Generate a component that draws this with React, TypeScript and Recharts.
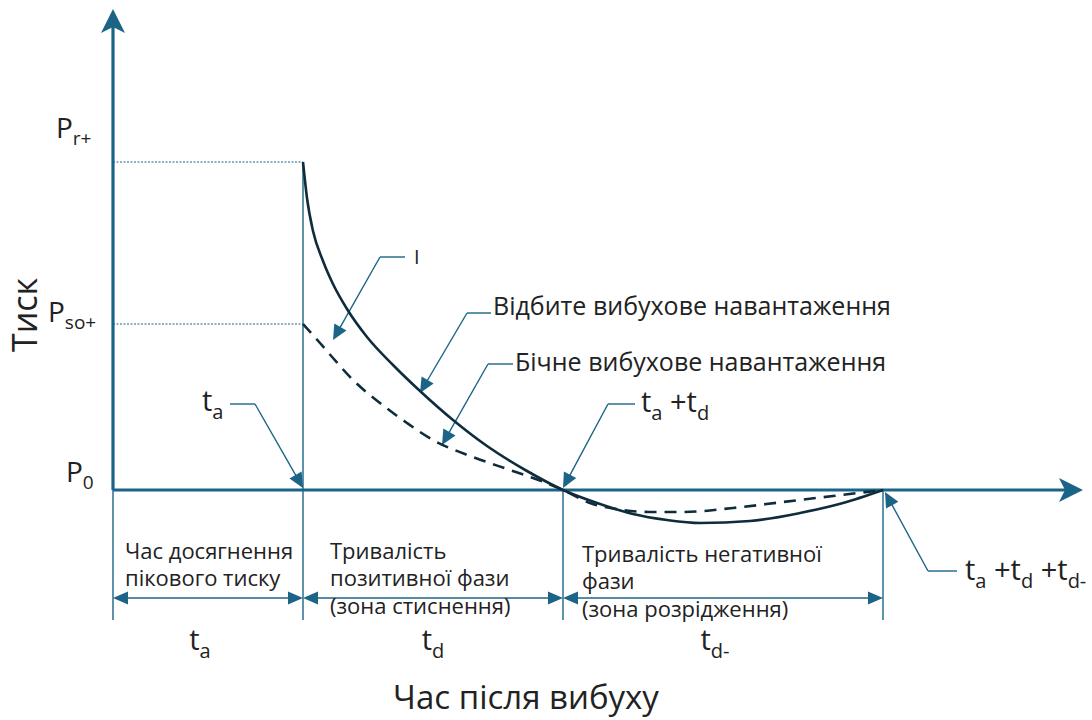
import type { ReactNode } from "react"
import { ComposedChart, Line, ReferenceDot, ReferenceLine, XAxis, YAxis } from "recharts"

// Blast-wave pressure history: reflected load vs side-on (incident) load

const T_A = 19 // arrival time t_a
const T_POS = 45 // end of positive phase, t_a + t_d
const T_END = 77 // end of negative phase, t_a + t_d + t_d-
const P_R = 32.8 // peak reflected overpressure P_r+
const P_SO = 16.6 // peak side-on overpressure P_so+

const reflectedTime = [19, 19.4, 20.0, 21.0, 22.0, 23.4, 25.4, 28.0, 30.7, 34.0, 37.4, 41.4, 45, 48.7, 52, 55.4, 58.7, 63.7, 68.7, 73, 77]
const reflectedPressure = [P_R, 29.2, 25.9, 22.9, 20.6, 18.1, 15.3, 12.5, 9.9, 7.0, 4.4, 1.9, 0, -1.4, -2.4, -3.0, -3.3, -3.1, -2.3, -1.3, 0]

const sideTime = [19, 20.7, 22.0, 24.0, 26.7, 29.4, 32.0, 36.0, 39.4, 42.0, 45, 47.7, 51, 53.7, 57, 62, 67, 72, 77]
const sidePressure = [P_SO, 14.7, 13.2, 11.0, 8.7, 6.7, 5.0, 3.3, 2.1, 1.2, 0, -1.3, -2.0, -2.2, -2.2, -1.8, -1.2, -0.6, 0]

const reflectedData = reflectedTime.map((t, i) => ({ t, p: reflectedPressure[i] }))
const sideData = sideTime.map((t, i) => ({ t, p: sidePressure[i] }))

const AXIS = "#1b6488"
const CURVE = "#0f2c3d"
const INK = "#222"
const FONT = "'Open Sans', 'Noto Sans', sans-serif"

type Pt = [number, number]
type SegProps = { x1?: number; y1?: number; x2?: number; y2?: number }
type ArrowOpts = { width: number; start?: boolean; end?: boolean; len?: number; half?: number; notch?: number; dash?: string }

// polygon for an arrowhead whose tip sits at (x, y), pointing along (ux, uy)
function headPoints(x: number, y: number, ux: number, uy: number, len: number, half: number, notch: number) {
  const bx = x - ux * len
  const by = y - uy * len
  const nx = -uy
  const ny = ux
  const pts: Pt[] = [
    [x, y],
    [bx + nx * half, by + ny * half],
    [x - ux * (len - notch), y - uy * (len - notch)],
    [bx - nx * half, by - ny * half],
  ]
  return pts.map((p) => p.join(",")).join(" ")
}

function arrowShape(o: ArrowOpts) {
  return (props: SegProps) => {
    const { x1 = 0, y1 = 0, x2 = 0, y2 = 0 } = props
    const d = Math.hypot(x2 - x1, y2 - y1) || 1
    const ux = (x2 - x1) / d
    const uy = (y2 - y1) / d
    const len = o.len ?? 13
    const half = o.half ?? 6
    const notch = o.notch ?? 0
    const inset = len * 0.6
    const sx = o.start ? x1 + ux * inset : x1
    const sy = o.start ? y1 + uy * inset : y1
    const ex = o.end ? x2 - ux * inset : x2
    const ey = o.end ? y2 - uy * inset : y2
    return (
      <g>
        <line x1={sx} y1={sy} x2={ex} y2={ey} stroke={AXIS} strokeWidth={o.width} strokeDasharray={o.dash} />
        {o.end && <polygon points={headPoints(x2, y2, ux, uy, len, half, notch)} fill={AXIS} />}
        {o.start && <polygon points={headPoints(x1, y1, -ux, -uy, len, half, notch)} fill={AXIS} />}
      </g>
    )
  }
}

const plain = arrowShape({ width: 1.4 })
const pointer = arrowShape({ width: 1.4, end: true, len: 15, half: 7 })
const span = arrowShape({ width: 1.6, start: true, end: true, len: 15, half: 6.5 })
const axisArrow = arrowShape({ width: 3.2, end: true, len: 24, half: 12, notch: 6 })
const dotted = arrowShape({ width: 1.2, dash: "2 1.5" })

function seg(key: string, a: Pt, b: Pt, shape: (p: SegProps) => ReactNode) {
  return (
    <ReferenceLine
      key={key}
      segment={[{ x: a[0], y: a[1] }, { x: b[0], y: b[1] }]}
      ifOverflow="visible"
      shape={shape as any}
    />
  )
}

function note(key: string, x: number, y: number, draw: (cx: number, cy: number) => ReactNode) {
  return (
    <ReferenceDot
      key={key}
      x={x}
      y={y}
      r={1}
      ifOverflow="visible"
      shape={((p: { cx: number; cy: number }) => draw(p.cx, p.cy)) as any}
    />
  )
}

// plain text line, anchored at the given point
function words(key: string, x: number, y: number, s: string, size = 20, anchor: "start" | "middle" = "start") {
  return note(key, x, y, (cx, cy) => (
    <text x={cx} y={cy} fontFamily={FONT} fontSize={size} fill={INK} textAnchor={anchor}>
      {s}
    </text>
  ))
}

// symbol with subscripts: parts alternate main / subscript
function symbol(key: string, x: number, y: number, parts: string[], size = 29, anchor: "start" | "middle" = "start") {
  const sub = Math.round(size * 0.68)
  const drop = Math.round(size * 0.26)
  return note(key, x, y, (cx, cy) => (
    <text x={cx} y={cy} fontFamily={FONT} fontSize={size} fill={INK} textAnchor={anchor}>
      {parts.map((s, i) =>
        i % 2 === 0 ? (
          <tspan key={i} dy={i === 0 ? 0 : -drop} fontSize={size}>
            {s}
          </tspan>
        ) : (
          <tspan key={i} dy={drop} fontSize={sub}>
            {s}
          </tspan>
        ),
      )}
    </text>
  ))
}

const PHASE = 22

export default function App() {
  return (
    <div style={{ position: "absolute", left: 0, top: 0, background: "#fff" }}>
      <ComposedChart width={1092} height={720} margin={{ top: 10, right: 7, bottom: 0, left: 113 }}>
        <XAxis type="number" dataKey="t" domain={[0, 97.2]} allowDataOverflow hide />
        <YAxis type="number" domain={[-23, 48]} allowDataOverflow hide />

        {/* guide lines */}
        {seg("dotR", [0, P_R], [T_A, P_R], dotted)}
        {seg("dotSO", [0, P_SO], [T_A, P_SO], dotted)}
        {seg("vA", [T_A, P_R], [T_A, -13], plain)}
        {seg("vPos", [T_POS, 0], [T_POS, -13], plain)}
        {seg("vEnd", [T_END, 0], [T_END, -13], plain)}
        {seg("v0", [0, 0], [0, -13], plain)}

        {/* axes */}
        {seg("yAxis", [0, 0], [0, 48.1], axisArrow)}
        {seg("xAxis", [0, 0], [97, 0], axisArrow)}

        {/* duration spans */}
        {seg("spanA", [0, -10.8], [T_A, -10.8], span)}
        {seg("spanPos", [T_A, -10.8], [T_POS, -10.8], span)}
        {seg("spanNeg", [T_POS, -10.8], [T_END, -10.8], span)}

        {/* leader lines */}
        {seg("iH", [29.2, 23.3], [26.7, 23.3], plain)}
        {seg("iD", [26.7, 23.3], [22.0, 15.0], pointer)}
        {seg("rH", [37.8, 17.7], [35.4, 17.7], plain)}
        {seg("rD", [35.4, 17.7], [30.7, 9.7], pointer)}
        {seg("sH", [40.0, 12.6], [37.5, 12.6], plain)}
        {seg("sD", [37.5, 12.6], [32.9, 4.5], pointer)}
        {seg("taH", [11.7, 8.6], [14.2, 8.6], plain)}
        {seg("taD", [14.2, 8.6], [T_A, 0.2], pointer)}
        {seg("tdH", [52.2, 8.6], [49.5, 8.6], plain)}
        {seg("tdD", [49.5, 8.6], [T_POS, 0.2], pointer)}
        {seg("tnH", [84.4, -8.1], [81.5, -8.1], plain)}
        {seg("tnD", [81.5, -8.1], [T_END + 0.2, -0.2], pointer)}

        <Line data={sideData} dataKey="p" type="monotone" stroke={CURVE} strokeWidth={2.6} strokeDasharray="12 8" dot={false} activeDot={false} isAnimationActive={false} />
        <Line data={reflectedData} dataKey="p" type="monotone" stroke={CURVE} strokeWidth={2.6} dot={false} activeDot={false} isAnimationActive={false} />

        {/* pressure level labels */}
        {symbol("pr", -5.7, 35.2, ["P", "r+"], 28)}
        {symbol("pso", -6.5, 16.8, ["P", "so+"], 28)}
        {symbol("p0", -4.7, 0.8, ["P", "0"], 28)}
        {note("yTitle", -8.9, 17.5, (cx, cy) => (
          <text x={cx} y={cy} fontFamily={FONT} fontSize={34} fill={INK} textAnchor="middle" dominantBaseline="central" transform={`rotate(-90 ${cx} ${cy})`}>
            Тиск
          </text>
        ))}

        {/* curve annotations */}
        {words("i", 30.1, 22.6, "I", 20)}
        {words("refl", 38.0, 17.5, "Відбите вибухове навантаження", 25)}
        {words("side", 40.2, 11.9, "Бічне вибухове навантаження", 25)}
        {symbol("ta", 8.9, 7.9, ["t", "a"])}
        {symbol("tatd", 52.8, 7.8, ["t", "a", " +t", "d"])}
        {symbol("tatdtn", 85.2, -9.0, ["t", "a", " +t", "d", " +t", "d-"])}

        {/* phase descriptions */}
        {words("b1", 1.2, -6.9, "Час досягнення", PHASE)}
        {words("b2", 1.2, -9.6, "пікового тиску", PHASE)}
        {words("b3", 21.7, -6.9, "Тривалість", PHASE)}
        {words("b4", 21.7, -9.6, "позитивної фази", PHASE)}
        {words("b5", 21.7, -12.4, "(зона стиснення)", PHASE)}
        {words("b6", 46.9, -7.2, "Тривалість негативної", PHASE)}
        {words("b7", 46.9, -9.9, "фази", PHASE)}
        {words("b8", 46.9, -12.7, "(зона розрідження)", PHASE)}

        {symbol("lta", 8.7, -16.0, ["t", "a"], 29, "middle")}
        {symbol("ltd", 32.0, -16.0, ["t", "d"], 29, "middle")}
        {symbol("ltn", 60.2, -16.0, ["t", "d-"], 29, "middle")}

        {words("xTitle", 41.3, -21.9, "Час після вибуху", 33, "middle")}
      </ComposedChart>
    </div>
  )
}
